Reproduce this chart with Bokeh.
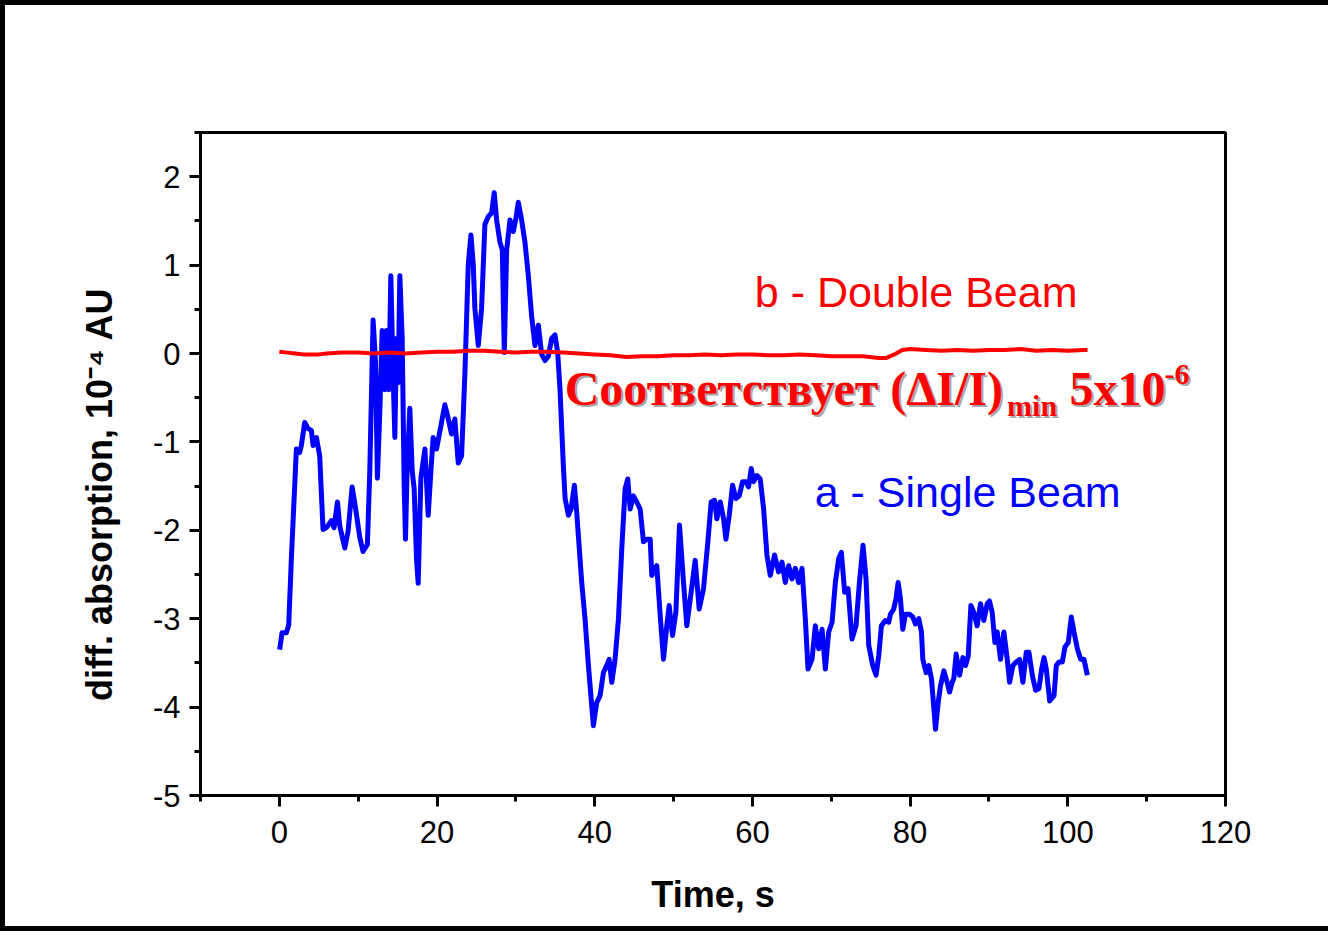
from bokeh.plotting import figure
from bokeh.models import Range1d, FixedTicker, Label
from bokeh.embed import file_html
from bokeh.resources import INLINE

# ---- data: a - Single Beam ----
time_a = [0.04, 0.34, 0.89, 1.19, 1.52, 1.95, 2.16, 2.58, 2.79, 3.22, 3.64, 4.06, 4.28, 4.70, 5.12,
          5.54, 5.97, 6.60, 6.94, 7.37, 7.66, 8.30, 8.72, 9.23, 9.65, 10.20, 10.62, 11.17, 11.47,
          11.89, 12.19, 12.44, 12.74, 13.04, 13.38, 13.59, 13.88, 14.14, 14.43, 14.65, 14.86,
          15.07, 15.28, 15.58, 15.83, 16.00, 16.21, 16.55, 16.85, 17.10, 17.40, 17.61, 17.95,
          18.46, 18.88, 19.22, 19.51, 19.94, 20.57, 20.99, 21.33, 21.84, 22.26, 22.69, 23.11,
          23.53, 23.96, 24.30, 24.59, 24.80, 25.23, 25.65, 26.07, 26.50, 26.92, 27.26, 27.56,
          27.98, 28.28, 28.53, 28.83, 29.25, 29.67, 29.97, 30.31, 30.73, 31.15, 31.58, 32.00,
          32.42, 32.85, 33.27, 33.69, 34.12, 34.54, 34.96, 35.30, 35.60,
          36.02, 36.24, 36.66, 37.00, 37.42, 37.71, 38.35, 38.77, 39.20, 39.83, 40.25, 40.68,
          41.10, 41.52, 41.82, 42.16, 42.58, 43.01, 43.43, 43.85, 44.19, 44.49, 44.91, 45.33,
          45.76, 46.18, 46.60, 47.03, 47.24, 47.87, 48.30, 48.72, 49.14, 49.44, 49.87, 50.29,
          50.75, 51.26, 51.68, 52.23, 52.74, 53.25, 53.80, 54.35, 54.77, 55.20, 55.49, 55.92,
          56.34, 56.64, 57.06, 57.48, 57.90, 58.33, 58.75, 59.17, 59.51, 59.85, 60.15, 60.57,
          60.99, 61.42, 61.84, 62.26, 62.81, 63.32, 63.75, 64.17, 64.59, 65.02, 65.44, 65.86,
          66.29, 66.71, 67.05, 67.56, 67.98, 68.40, 68.83, 69.25, 69.67, 70.10, 70.52, 70.94,
          71.28, 71.70, 72.13, 72.63, 73.14, 73.57, 74.03, 74.41, 74.75, 75.26, 75.68,
          76.02, 76.36, 76.86, 77.29, 77.50, 77.92, 78.22, 78.48, 78.77, 79.07, 79.41, 79.92,
          80.34, 80.68, 81.10, 81.44, 81.61, 82.03, 82.37, 82.71, 82.92, 83.22, 83.56, 83.85,
          84.28, 84.70, 85.00, 85.33, 85.54, 85.84, 86.27, 86.69, 87.03, 87.37, 87.71, 88.08,
          88.50, 88.93, 89.35, 89.78, 90.07, 90.41, 90.75, 91.05, 91.47, 91.89, 92.32, 92.62,
          93.04, 93.46, 93.89, 94.31, 94.73, 95.07, 95.50, 95.92, 96.34, 96.68, 96.98, 97.27,
          97.70, 98.25, 98.54, 98.88, 99.30, 99.64, 100.06, 100.44, 100.78, 101.21, 101.63,
          102.05, 102.48]
diff_a = [-3.35, -3.16, -3.16, -3.07, -2.33, -1.49, -1.08, -1.12, -1.04, -0.78, -0.85, -0.87, -1.04, -0.95, -1.16,
          -1.99, -1.97, -1.89, -1.97, -1.68, -1.95, -2.20, -2.01, -1.51, -1.74, -2.08, -2.24, -2.16, -1.33,
          0.38, -0.08, -1.41, -0.66, 0.26, -0.41, 0.26, -0.41, 0.88, -0.24, -0.95, 0.17,
          -0.33, 0.88, 0.17, -1.49, -2.10, -1.28, -0.62, -1.33, -1.53, -2.33, -2.60, -1.41,
          -1.08, -1.83, -1.33, -0.95, -1.08, -0.78, -0.58, -0.70, -0.91, -0.74, -1.24, -1.16,
          -0.24, 1.01, 1.34, 1.01, 0.51, 0.09, 0.51, 1.46, 1.55, 1.59, 1.82, 1.51,
          1.26, 1.17, 0.01, 1.17, 1.51, 1.38, 1.51, 1.71, 1.51, 1.26, 0.88, 0.42,
          0.09, 0.32, -0.01, -0.08, -0.03, 0.17, 0.21, 0.01, -0.41,
          -1.27, -1.64, -1.83, -1.76, -1.49, -1.79, -2.59, -3.00, -3.53, -4.21, -3.95, -3.87,
          -3.61, -3.53, -3.46, -3.72, -3.46, -3.00, -2.21, -1.53, -1.42, -1.76, -1.61, -1.68,
          -1.76, -2.13, -2.10, -2.10, -2.51, -2.40, -2.96, -3.46, -3.08, -2.85, -3.19, -2.93,
          -1.94, -2.59, -3.08, -2.70, -2.34, -2.89, -2.66, -2.13, -1.68, -1.66, -1.87, -1.68,
          -1.87, -2.10, -1.83, -1.49, -1.64, -1.61, -1.45, -1.45, -1.51, -1.30, -1.45, -1.38,
          -1.42, -1.76, -2.28, -2.51, -2.28, -2.47, -2.36, -2.59, -2.40, -2.55, -2.43, -2.59,
          -2.43, -3.00, -3.57, -3.46, -3.08, -3.34, -3.12, -3.57, -3.15, -3.04, -2.59, -2.32,
          -2.25, -2.70, -2.66, -3.23, -3.08, -2.59, -2.17, -2.55, -3.30, -3.53, -3.64,
          -3.42, -3.08, -3.02, -3.04, -2.95, -2.89, -2.77, -2.59, -2.77, -3.12, -2.95, -2.95,
          -2.98, -3.06, -3.00, -3.15, -3.46, -3.61, -3.53, -3.68, -3.91, -4.25, -3.95, -3.76,
          -3.59, -3.72, -3.83, -3.72, -3.68, -3.40, -3.64, -3.44, -3.53, -3.42, -2.85, -2.93,
          -3.08, -2.83, -3.02, -2.83, -2.80, -2.93, -3.27, -3.15, -3.46, -3.15, -3.46, -3.72,
          -3.53, -3.49, -3.46, -3.72, -3.38, -3.38, -3.64, -3.81, -3.79, -3.57, -3.44, -3.57,
          -3.93, -3.87, -3.53, -3.49, -3.49, -3.32, -3.27, -2.98, -3.15, -3.34, -3.46,
          -3.46, -3.64]

# ---- data: b - Double Beam ----
time_b = [0, 1, 2, 3, 4, 5, 6, 8, 10, 12, 14, 16, 18, 20, 22, 24, 26, 28, 30, 32, 34, 36, 38,
          40, 42, 44, 46, 48, 50, 52, 54, 56, 58, 60, 62, 64, 66, 68, 70, 72, 74, 76, 77, 78,
          79, 80, 82, 84, 86, 88, 90, 92, 94, 96, 98, 100, 102, 102.5]
diff_b = [0.02, 0.01, 0.00, -0.01, -0.01, -0.01, 0.00, 0.01, 0.01, 0.00, 0.01, 0.00, 0.01, 0.02,
          0.02, 0.03, 0.03, 0.02, 0.01, 0.02, 0.02, 0.01, 0.00, -0.01, -0.02, -0.04, -0.03, -0.03,
          -0.02, -0.02, -0.01, -0.02, -0.01, -0.01, -0.02, -0.02, -0.01, -0.02, -0.03, -0.03, -0.03,
          -0.05, -0.05, -0.01, 0.04, 0.05, 0.04, 0.03, 0.04, 0.03, 0.04, 0.04, 0.05, 0.03, 0.04,
          0.03, 0.04, 0.04]

x_major = [0, 20, 40, 60, 80, 100, 120]
x_minor = [-10, 10, 30, 50, 70, 90, 110]
y_major = [-5, -4, -3, -2, -1, 0, 1, 2]
y_minor = [-4.5, -3.5, -2.5, -1.5, -0.5, 0.5, 1.5, 2.5]
y_labels = ["-5", "-4", "-3", "-2", "-1", "0", "1", "2"]

SANS = "Liberation Sans"
SERIF = "Liberation Serif"

p = figure(width=1328, height=931, output_backend="svg", toolbar_location=None,
           x_range=Range1d(-10, 120), y_range=Range1d(-5, 2.5),
           min_border_left=195, min_border_right=108, min_border_top=127, min_border_bottom=141)
p.styles = {"border-left": "5px solid black", "border-top": "5px solid black",
            "border-bottom": "5px solid black"}
p.grid.visible = False
p.outline_line_color = "black"
p.outline_line_width = 3
p.background_fill_color = "white"
p.border_fill_color = "white"

for ax, maj, mnr in ((p.xaxis[0], x_major, x_minor), (p.yaxis[0], y_major, y_minor)):
    ax.ticker = FixedTicker(ticks=maj, minor_ticks=mnr)
    ax.axis_line_width = 3
    ax.axis_line_color = "black"
    ax.major_tick_line_width = 3
    ax.minor_tick_line_width = 3
    ax.major_tick_line_color = "black"
    ax.minor_tick_line_color = "black"
    ax.major_tick_out = 11
    ax.major_tick_in = 0
    ax.minor_tick_out = 6
    ax.minor_tick_in = 0
    ax.major_label_text_font = SANS
    ax.major_label_text_font_size = "31px"
    ax.major_label_text_color = "black"
    ax.axis_label_text_font = SANS
    ax.axis_label_text_font_style = "bold"
    ax.axis_label_text_font_size = "36px"
    ax.axis_label_text_color = "black"

p.yaxis.major_label_overrides = {v: s for v, s in zip(y_major, y_labels)}
p.xaxis.major_label_standoff = 14
p.yaxis.major_label_standoff = 9
p.xaxis.axis_label = "Time, s"
p.xaxis.axis_label_standoff = 28
p.yaxis.axis_label = "diff. absorption, 10\u207b\u2074 AU" + "\u00a0" * 6
p.yaxis.axis_label_standoff = 30

p.line(time_a, diff_a, line_color="#0000ff", line_width=5, line_join="round")
p.line(time_b, diff_b, line_color="#ff0000", line_width=4, line_join="round")

p.add_layout(Label(x=60.3, y=0.70, text="b - Double Beam", text_font=SANS,
                   text_font_size="43px", text_color="#ff0000", text_baseline="alphabetic"))
p.add_layout(Label(x=67.9, y=-1.57, text="a - Single Beam", text_font=SANS,
                   text_font_size="43px", text_color="#0000ff", text_baseline="alphabetic"))

pieces = [
    (36.19, -0.40, "Соответствует (ΔI/I)", "48px"),
    (92.3, -0.585, "min", "30px"),
    (100.2, -0.40, "5x10", "48px"),
    (112.25, -0.24, "-6", "30px"),
]
for color, dx, dy in (("#a8a8a8", 2, -2), ("#ff0000", 0, 0)):
    for x, y, t, fs in pieces:
        p.add_layout(Label(x=x, y=y, x_offset=dx, y_offset=dy, text=t, text_font=SERIF,
                           text_font_style="bold", text_font_size=fs, text_color=color,
                           text_baseline="alphabetic"))

open("out.html", "w").write(file_html(p, INLINE))
